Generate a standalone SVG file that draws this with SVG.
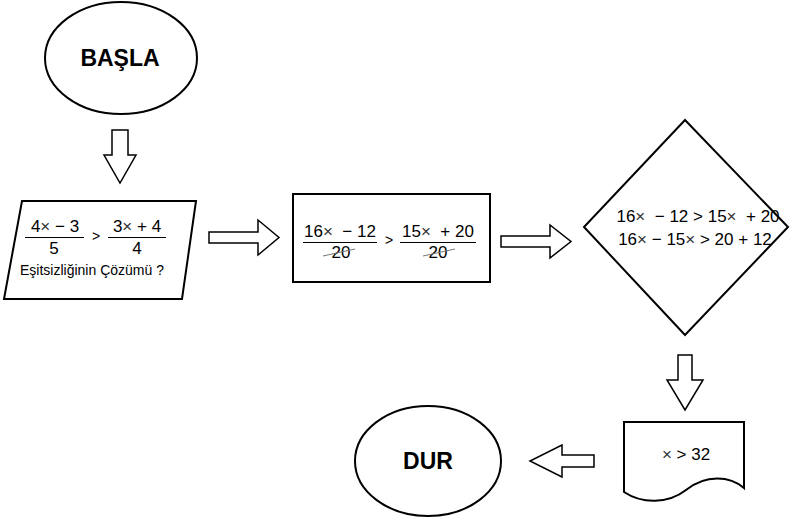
<svg xmlns="http://www.w3.org/2000/svg" width="812" height="517" viewBox="0 0 812 517">
<style>
.sh{fill:#fff;stroke:#000;stroke-width:2}
.ar{fill:#fff;stroke:#000;stroke-width:1.5;stroke-linejoin:miter}
.t{font-family:"Liberation Sans",Arial,sans-serif;font-size:17px;fill:#000;white-space:pre}
.s{font-family:"Liberation Sans",Arial,sans-serif;font-size:14px;fill:#000}
.b{font-family:"Liberation Sans",Arial,sans-serif;font-size:23px;font-weight:bold;fill:#000;text-anchor:middle}
.x{font-size:17px;fill:#333}
.fl{stroke:#000;stroke-width:1}
.st{stroke:#777;stroke-width:1}
.m{text-anchor:middle}
</style>
<rect width="812" height="517" fill="#fff"/>
<g id="basla">
<ellipse class="sh" cx="121" cy="58" rx="76" ry="56"/>
<text class="b" x="120" y="66">BAŞLA</text>
</g>
<g id="input">
<polygon class="sh" points="22,201 196,201 182,299 4,299"/>
<text class="t m" x="55" y="232">4<tspan class="x">×</tspan> − 3</text>
<line class="fl" x1="25" y1="237.5" x2="84" y2="237.5"/>
<text class="t m" x="54" y="254">5</text>
<text class="s m" x="96" y="241">&gt;</text>
<text class="t m" x="137" y="232">3<tspan class="x">×</tspan> + 4</text>
<line class="fl" x1="108" y1="237.5" x2="166" y2="237.5"/>
<text class="t m" x="137" y="254">4</text>
<text class="s" x="20" y="275">Eşitsizliğinin Çözümü ?</text>
</g>
<g id="process">
<rect class="sh" x="293" y="194" width="197" height="88"/>
<text class="t m" x="340" y="237">16<tspan class="x" fill="#3a3">×</tspan>  − 12</text>
<line class="fl" x1="303" y1="242.5" x2="377" y2="242.5"/>
<text class="t m" x="341" y="258">20</text>
<line class="st" x1="323" y1="256" x2="355" y2="249"/>
<text class="s m" x="389" y="245">&gt;</text>
<text class="t m" x="438" y="237">15<tspan class="x" fill="#639">×</tspan>  + 20</text>
<line class="fl" x1="400" y1="242.5" x2="476" y2="242.5"/>
<text class="t m" x="438" y="258">20</text>
<line class="st" x1="423" y1="256" x2="455" y2="249"/>
</g>
<g id="decision">
<polygon class="sh" points="685,120 788,227 685,335 584,227"/>
<text class="t m" x="698" y="222">16<tspan class="x" fill="#639">×</tspan>  − 12 &gt; 15<tspan class="x" fill="#639">×</tspan>  + 20</text>
<text class="t m" x="695" y="245" fill="#222">16<tspan class="x" fill="#666">×</tspan> − 15<tspan class="x" fill="#666">×</tspan> &gt; 20 + 12</text>
</g>
<g id="output">
<path class="sh" d="M624,422 H744 V488 C730,476 706,474 686,490 C668,504 642,504 624,492 Z"/>
<text class="t m" x="686" y="460"><tspan class="x" fill="#639">×</tspan> &gt; 32</text>
</g>
<g id="dur">
<ellipse class="sh" cx="428" cy="461" rx="73" ry="55"/>
<text class="b" x="428" y="469">DUR</text>
</g>
<g id="connectors">
<polygon class="ar" points="112,130 128,130 128,155 136,155 120,183 104,155 112,155"/>
<polygon class="ar" points="209,232 258,232 258,220 279,237.5 258,255 258,243 209,243"/>
<polygon class="ar" points="501,236 550,236 550,225 571,241.5 550,258 550,247 501,247"/>
<polygon class="ar" points="678,355 692,355 692,380 703,380 685,410 667,380 678,380"/>
<polygon class="ar" points="594,455 562,455 562,445 530,461 562,477 562,467 594,467"/>
</g>
</svg>
